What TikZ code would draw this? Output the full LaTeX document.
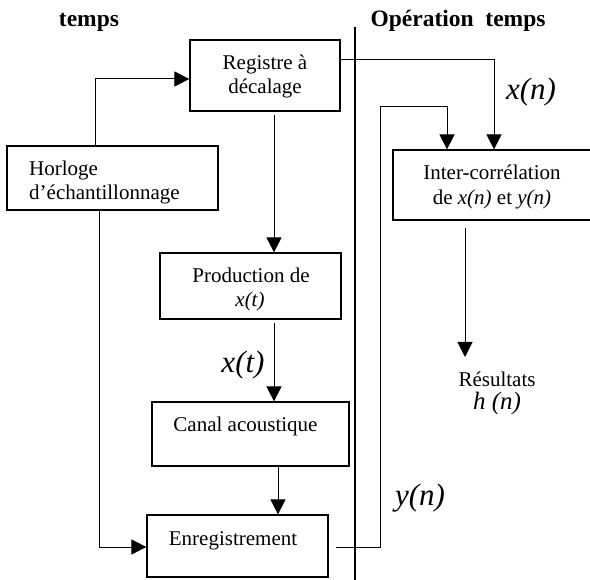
\documentclass[tikz,border=0pt]{standalone}
\usepackage{fontspec}
\setmainfont{Liberation Serif}
\usetikzlibrary{arrows.meta}
\tikzset{
  box/.style={draw, line width=1.2pt, inner sep=0pt, minimum width=#1},
  box/.default=100pt,
  arr/.style={line width=1pt, -{Triangle[length=15pt,width=15pt]}},
  ln/.style={line width=1pt},
  txt/.style={anchor=base, inner sep=0pt, font=\fontsize{21}{25}\selectfont},
  big/.style={anchor=base, inner sep=0pt, font=\fontsize{31}{36}\selectfont\itshape},
  head/.style={anchor=base, inner sep=0pt, font=\fontsize{23.5}{28}\selectfont\bfseries}
}
\begin{document}
\begin{tikzpicture}[x=1pt,y=-1pt]
\useasboundingbox (0,0) rectangle (590,580);
% boxes
\node[box=150pt, minimum height=71pt] (reg) at (265,75.5) {};
\node[box=211pt, minimum height=64pt] (hor) at (112.5,178) {};
\node[box=181pt, minimum height=66pt] (prod) at (250.5,286) {};
\node[box=197pt, minimum height=64pt] (can) at (250.5,434) {};
\node[box=181pt, minimum height=62pt] (enr) at (237.5,546) {};
\node[box=198pt, minimum height=70pt] (inter) at (492,185) {};
% texts
\node[head] (h1) at (89,27) {temps};
\node[head] (h2) at (458,27) {Opération\ \ temps};
\node[txt] (t1) at (265,70) {Registre à};
\node[txt] (t2) at (265,94) {décalage};
\begin{scope}
\clip (hor.south west) rectangle (hor.north east);
\node[txt, anchor=base west] (t3) at (29,176) {Horloge};
\node[txt, anchor=base west] (t4) at (29,200) {d’échantillonnage};
\end{scope}
\node[txt] (t5) at (251,283) {Production de};
\node[txt] (t6) at (250,307) {\textit{x(t)}};
\node[txt] (t7) at (245.5,432) {Canal acoustique};
\node[txt] (t8) at (233,546) {Enregistrement};
\node[txt] (t9) at (492,180) {Inter-corrélation};
\node[txt] (t10) at (492,205) {de \textit{x(n)} et \textit{y(n)}};
\node[txt] (res) at (497,387) {Résultats};
\node[anchor=base, inner sep=0pt, font=\fontsize{25}{30}\selectfont\itshape] (hn) at (497,409.5) {h (n)};
\node[big] (lxn) at (531,100) {x(n)};
\node[big] (lxt) at (243,373) {x(t)};
\node[big] (lyn) at (420,505) {y(n)};
% separator
\draw[line width=1.2pt] (355,27) -- (355,580);
% connectors
\coordinate (c1) at (95,79);
\draw[arr] (hor.north -| c1) -- (c1) -- (reg.west |- c1);
\coordinate (c2) at (99,547);
\draw[arr] (hor.south -| c2) -- (c2) -- (enr.west |- c2);
\coordinate (c3) at (274,115);
\draw[arr] (c3) -- (prod.north -| c3);
\coordinate (c4) at (274,323);
\draw[arr] (c4) -- (can.north -| c4);
\coordinate (c5) at (278,490);
\draw[arr] (can.south -| c5) -- (enr.north -| c5);
\coordinate (e1) at (336,547);
\coordinate (e2) at (380,107);
\coordinate (e3) at (447,107);
\draw[arr] (e1) -- (e1 -| e2) -- (e2) -- (e3) -- (inter.north -| e3);
\coordinate (r1) at (494,60);
\draw[arr] (reg.east |- r1) -- (r1) -- (inter.north -| r1);
\coordinate (i1) at (465,228);
\coordinate (i2) at (465,357);
\draw[arr] (i1) -- (i2);
\end{tikzpicture}
\end{document}
